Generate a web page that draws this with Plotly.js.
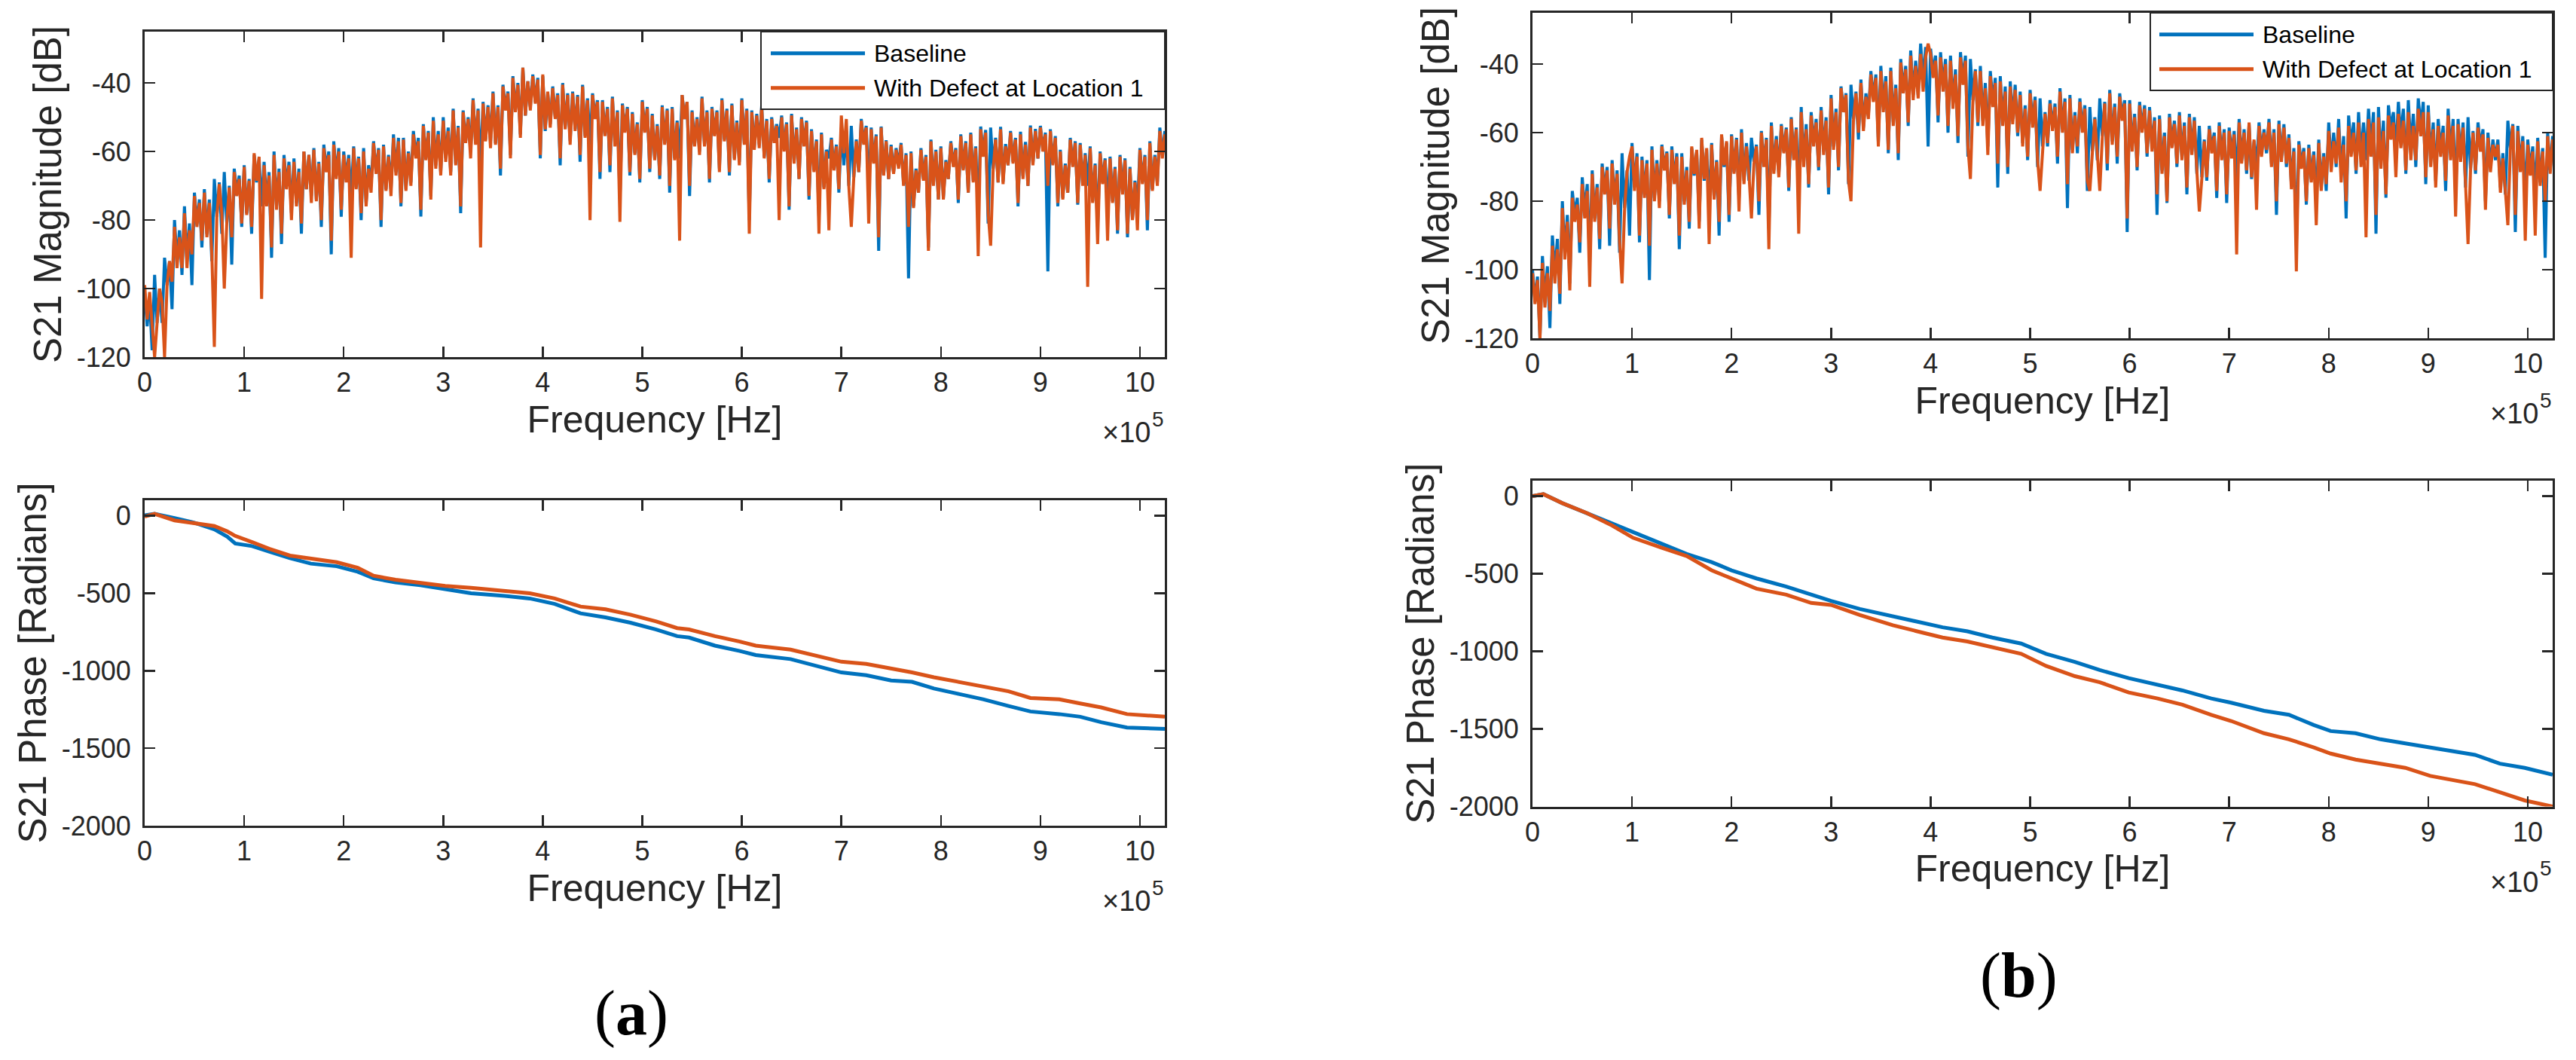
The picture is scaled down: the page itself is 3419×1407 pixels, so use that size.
<!DOCTYPE html>
<html>
<head>
<meta charset="utf-8">
<title>S21 magnitude and phase</title>
<script src="https://cdn.plot.ly/plotly-3.0.1.min.js"></script>
<style>
    html, body { margin: 0; padding: 0; background: #ffffff; }
    #chart { width: 3419px; height: 1407px; }
</style>
</head>
<body>
<div id="chart"></div>
<script>
// magnitude spectra are sampled every 2.5 kHz from 0 Hz, one row per 100 kHz
const MAG_STEP_HZ = 2500;

const freqTickVals = [0, 100000, 200000, 300000, 400000, 500000, 600000, 700000, 800000, 900000, 1000000];
const freqTickText = ['0', '1', '2', '3', '4', '5', '6', '7', '8', '9', '10'];
const magTicks = [-120, -100, -80, -60, -40];
const magTickText = ['-120', '-100', '-80', '-60', '-40'];
const phaseTicks = [-2000, -1500, -1000, -500, 0];
const phaseTickText = ['-2000', '-1500', '-1000', '-500', '0'];

const seriesNames = ['Baseline', 'With Defect at Location 1'];

// (a) magnitude [dB]
const magA_base = [
    -101, -111, -103, -118, -96, -110, -100, -110, -91, -99, -92, -106, -80, -92, -83, -96, -76, -92, -81, -99,
    -72, -81, -74, -88, -71, -84, -74, -92, -68, -79, -69, -84, -66, -81, -70, -93, -65, -72, -67, -82,
    -64, -78, -68, -84, -61, -69, -62, -76, -63, -75, -66, -91, -60, -76, -65, -87, -61, -70, -63, -78,
    -62, -75, -65, -84, -60, -71, -61, -73, -59, -74, -63, -82, -58, -65, -60, -90, -57, -67, -59, -79,
    -60, -68, -61, -74, -58.5, -70.5, -61.5, -80, -59, -75, -64, -70, -57, -66, -59, -82, -58, -71, -61, -71,
    -55, -66, -56, -76, -56, -71, -60, -69, -54, -61, -56, -79, -52, -62, -54, -73, -50, -64, -54, -66,
    -50, -62, -53, -66, -47.5, -63.5, -52.5, -78, -48, -57, -50, -60, -44.5, -57.5, -47.5, -65, -45.5, -56.5, -46.5, -57,
    -42.5, -57.5, -46.5, -67, -40.5, -47.5, -42.5, -61, -38, -48, -40, -55, -35.5, -49.5, -39.5, -47, -37.5, -45.5, -38.5, -62,
    -38, -54, -43, -52, -41, -50, -43, -64, -40, -53, -43, -57, -42.5, -53.5, -43.5, -63, -40.5, -55.5, -44.5, -58,
    -43, -50, -45, -68, -45, -55, -47, -66, -44, -58, -48, -74, -46, -54, -47, -67, -48.5, -60.5, -51.5, -69,
    -45, -54, -47, -66, -49, -62, -52, -68, -46.5, -57.5, -47.5, -72, -47, -62, -51, -62, -43.5, -50.5, -45.5, -73,
    -48, -58, -50, -60, -44, -58, -48, -69, -47, -55, -48, -65, -44.5, -56.5, -47.5, -67, -46, -62, -51, -63,
    -44.5, -57.5, -47.5, -80, -48, -59, -49, -58, -46.5, -61.5, -50.5, -69, -50, -57, -52, -56, -49.5, -59.5, -51.5, -77,
    -49, -63, -53, -68, -50, -58, -51, -74, -53.5, -65.5, -56.5, -79, -54.5, -70.5, -59.5, -62, -56, -65, -58, -72,
    -53, -64, -54, -70, -52.5, -67.5, -56.5, -66, -50.5, -57.5, -52.5, -72, -53, -63, -55, -89, -52.7, -66.7, -56.7, -68,
    -58, -66, -59, -64, -57.5, -69.5, -60.5, -97, -60, -76, -65, -72, -59, -68, -61, -88, -56.5, -69.5, -59.5, -74,
    -58.5, -73.5, -62.5, -68, -57, -64, -59, -75, -55, -65, -57, -72, -54.5, -68.5, -58.5, -79, -52.7, -60.7, -53.7, -81,
    -53, -65, -56, -69, -52.8, -68.8, -57.8, -64, -54, -63, -56, -76, -54.2, -67.2, -57.2, -70, -52.4, -63.4, -53.4, -62,
    -52.5, -59.5, -54.5, -95, -53.5, -63.5, -55.5, -76, -59.5, -73.5, -63.5, -72, -56, -64, -57, -75.5, -57.5, -69.5, -60.5, -70,
    -58.5, -74.5, -63.5, -82, -60, -69, -62, -77, -61.5, -74.5, -64.5, -84, -61, -72, -62, -85, -64.5, -79.5, -68.5, -77,
    -59, -69, -61, -83, -57, -71, -61, -69, -53, -61, -54, -66
];
const magA_defect = [
    -99, -109, -101, -112, -120, -110, -100, -104, -120, -99, -92, -98, -82, -94, -85, -94, -78, -94, -83, -90,
    -73, -82, -75, -86, -72, -85, -75, -90, -117, -79, -69.5, -78, -100, -81, -70.5, -85, -66, -73, -68, -81,
    -64.5, -78.5, -68.5, -82, -60.5, -68.5, -61.5, -103, -64, -76, -67, -88, -61, -77, -66, -84, -62, -71, -64, -80,
    -63, -76, -66, -81, -60, -71, -61, -75, -59.5, -74.5, -63.5, -80, -59, -66, -61, -86, -58, -68, -60, -77,
    -61, -69, -62, -91, -59, -71, -62, -78, -60, -76, -65, -72, -57.5, -66.5, -59.5, -80, -58.5, -71.5, -61.5, -73,
    -56, -67, -57, -75, -56.5, -71.5, -60.5, -70, -55, -62, -57, -77, -52.5, -62.5, -54.5, -74, -51, -65, -55, -67,
    -51, -63, -54, -67, -48, -64, -53, -76, -48.5, -57.5, -50.5, -62, -45, -58, -48, -88, -46, -57, -47, -59,
    -43, -58, -47, -65, -41, -48, -43, -62, -38.5, -48.5, -40.5, -56, -35.5, -49.5, -39.5, -48, -38, -46, -39, -61,
    -37.5, -53.5, -42.5, -53, -41.5, -50.5, -43.5, -62, -40.5, -53.5, -43.5, -58, -43, -54, -44, -61, -41, -56, -45, -80,
    -43.5, -50.5, -45.5, -66, -45.5, -55.5, -47.5, -64, -44.5, -58.5, -48.5, -80.5, -46.5, -54.5, -47.5, -66, -49, -61, -52, -68,
    -45.5, -54.5, -47.5, -65, -49.5, -62.5, -52.5, -67, -47, -58, -48, -70, -47.5, -62.5, -51.5, -86, -43.5, -50.5, -45.5, -70,
    -48.5, -58.5, -50.5, -61, -44.5, -58.5, -48.5, -68, -47.5, -55.5, -48.5, -66, -45, -57, -48, -66, -46.5, -62.5, -51.5, -64,
    -45, -58, -48, -84, -48.5, -59.5, -49.5, -59, -47, -62, -51, -68, -50.5, -57.5, -52.5, -80, -50, -60, -52, -76,
    -49.5, -63.5, -53.5, -68, -50.5, -58.5, -51.5, -73, -54, -66, -57, -84, -55, -71, -60, -83, -56.5, -65.5, -58.5, -71,
    -49.5, -60.5, -50.5, -70, -82, -67.5, -57, -66, -51, -58, -53, -81, -53.5, -63.5, -55.5, -85, -53, -67, -57, -68,
    -58.5, -66.5, -59.5, -65, -58, -70, -61, -82, -60.5, -76.5, -65.5, -72, -59.5, -68.5, -61.5, -89, -57, -70, -60, -74,
    -59, -74, -63, -68, -57.5, -64.5, -59.5, -74, -55.5, -65.5, -57.5, -72, -55, -69, -59, -90.5, -53.5, -61.5, -54.5, -78,
    -87.5, -65.5, -56.5, -69, -53.5, -69.5, -58.5, -64, -54.5, -63.5, -56.5, -75, -55, -68, -58, -70, -53, -64, -54, -62,
    -53, -60, -55, -70, -54, -64, -56, -75, -60, -74, -64, -72, -56.5, -64.5, -57.5, -75, -58, -70, -61, -99.5,
    -59, -75, -64, -87, -60.5, -69.5, -62.5, -86, -62, -75, -65, -83, -61.5, -72.5, -62.5, -84, -65, -80, -69, -83,
    -59.5, -69.5, -61.5, -80, -57.5, -71.5, -61.5, -70, -54, -62, -55, -64
];

// (b) magnitude [dB]
const magB_base = [
    -100, -109, -102, -120, -96, -109, -99, -117, -90, -101, -91, -110, -80, -95, -84, -104, -77, -84, -79, -95,
    -73, -83, -75, -98, -71, -85, -75, -94, -69, -77, -70, -93, -68, -80, -71, -95, -66, -82, -71, -90,
    -63, -76, -66, -92, -67, -78, -68, -103, -64, -79, -68, -80, -63.5, -70.5, -65.5, -85, -64, -74, -66, -94,
    -66, -80, -70, -88, -64.5, -72.5, -65.5, -86, -62, -74, -65, -82, -63, -79, -68, -90, -61, -70, -63, -86,
    -60.5, -71.5, -61.5, -79, -59, -74, -63, -74, -61.5, -68.5, -63.5, -84, -59.5, -69.5, -61.5, -88, -57, -71, -61, -72,
    -57.5, -65.5, -58.5, -77, -55.5, -67.5, -58.5, -80, -52.5, -68.5, -57.5, -76, -54, -63, -56, -71, -52.5, -65.5, -55.5, -78,
    -49, -64, -53, -71, -46.5, -53.5, -48.5, -75, -46, -56, -48, -62, -44.5, -58.5, -48.5, -55, -42, -50, -43, -63,
    -40.5, -52.5, -43.5, -66, -41, -57, -46, -68, -38.5, -47.5, -40.5, -58, -36, -49, -39, -49, -34, -45, -35, -64,
    -35.5, -42.5, -37.5, -57, -36.5, -46.5, -38.5, -60, -37.5, -51.5, -41.5, -63, -36.5, -44.5, -37.5, -67, -38.5, -50.5, -41.5, -58,
    -40.5, -56.5, -45.5, -64, -42, -51, -44, -76, -43.5, -56.5, -46.5, -72, -45, -56, -46, -61, -48, -63, -52, -68,
    -47.5, -57.5, -49.5, -70, -50, -64, -54, -64, -50.5, -58.5, -51.5, -69, -47, -59, -50, -82, -49, -65, -54, -66,
    -50, -59, -52, -77, -52.5, -65.5, -55.5, -68, -50, -61, -51, -71, -47.5, -62.5, -51.5, -69, -48.5, -55.5, -50.5, -89,
    -50.5, -64.5, -54.5, -71, -51, -59, -52, -67, -52.5, -64.5, -55.5, -84, -55, -71, -60, -80.5, -54.5, -63.5, -56.5, -70,
    -54, -67, -57, -78, -54.5, -65.5, -55.5, -72, -58, -73, -62, -74, -58, -65, -60, -79, -57, -67, -59, -80.5,
    -58.5, -66.5, -59.5, -74, -56, -68, -59, -72, -57.5, -73.5, -62.5, -70, -57, -66, -59, -66, -56, -69, -59, -84,
    -56.5, -67.5, -57.5, -70, -60.5, -75.5, -64.5, -93, -62.5, -69.5, -64.5, -81, -63.5, -73.5, -65.5, -80, -62, -76, -66, -77,
    -57, -69, -60, -70, -56, -72, -61, -85, -55, -64, -57, -72, -54, -67, -57, -68, -53, -64, -54, -89.5,
    -52.5, -67.5, -56.5, -79, -52, -59, -54, -66, -51, -61, -53, -72, -50.5, -64.5, -54.5, -70, -50, -58, -51, -75,
    -52, -68, -57, -74, -56, -65, -58, -77, -53, -66, -56, -78, -56, -67, -57, -76, -55.5, -70.5, -59.5, -72,
    -57, -64, -59, -80, -60, -70, -62, -68, -62, -76, -66, -78, -56.5, -64.5, -57.5, -89, -58, -70, -61, -80,
    -62, -71, -64, -78, -61.5, -74.5, -64.5, -96.5, -60, -71, -61, -66
];
const magB_defect = [
    -101, -110, -103, -120, -98, -111, -101, -112, -93, -104, -94, -107, -82, -97, -86, -106, -79, -86, -81, -92,
    -75, -85, -77, -105, -72, -86, -76, -91, -70, -78, -71, -88, -69, -81, -72, -92, -104, -82.5, -71.5, -67,
    -64, -77, -67, -90, -68, -79, -69, -93, -65, -80, -69, -82, -64, -71, -66, -84, -65, -75, -67, -90,
    -67, -81, -71, -86, -64, -72, -65, -88, -61.5, -73.5, -64.5, -92.5, -63.5, -79.5, -68.5, -86, -60.5, -69.5, -62.5, -84,
    -61, -72, -62, -83, -60, -75, -64, -72, -85, -69, -64, -80, -60, -70, -62, -94, -58, -72, -62, -73,
    -58, -66, -59, -76, -56, -68, -59, -89.5, -54, -70, -59, -75, -55, -64, -57, -70, -53.5, -66.5, -56.5, -76,
    -50, -65, -54, -70, -47, -54, -49, -74, -80, -56.5, -48.5, -60, -45.5, -59.5, -49.5, -56, -43, -51, -44, -64,
    -42, -54, -45, -65, -42, -58, -47, -66, -39.5, -48.5, -41.5, -57, -37.5, -50.5, -40.5, -50, -37, -48, -38, -34,
    -37, -44, -39, -55, -38, -48, -40, -58, -39, -53, -43, -61, -38, -46, -39, -64, -73.5, -51, -42, -57,
    -42, -58, -47, -66.5, -43.5, -52.5, -45.5, -69, -45, -58, -48, -70, -46.5, -57.5, -47.5, -60, -49, -64, -53, -67,
    -48.5, -58.5, -50.5, -68, -77, -64.5, -54.5, -63, -51.5, -59.5, -52.5, -67, -48, -60, -51, -75, -50, -66, -55, -64,
    -51, -60, -53, -74, -77, -66, -56, -66, -77, -61.5, -51.5, -69, -48.5, -63.5, -52.5, -67, -49.5, -56.5, -51.5, -85,
    -51.5, -65.5, -55.5, -70, -52, -60, -53, -66, -53.5, -65.5, -56.5, -78, -56, -72, -61, -80, -55.5, -64.5, -57.5, -69,
    -55, -68, -58, -76, -55.5, -66.5, -56.5, -71, -83, -73.5, -62.5, -73, -59, -66, -61, -77, -58, -68, -60, -78,
    -59.5, -67.5, -60.5, -95.5, -57, -69, -60, -71, -57, -73, -62, -82.5, -58, -67, -60, -65, -57, -70, -60, -80,
    -57.5, -68.5, -58.5, -69, -61.5, -76.5, -65.5, -100.5, -63.5, -70.5, -65.5, -80, -64.5, -74.5, -66.5, -87, -63, -77, -67, -75,
    -59.5, -71.5, -62.5, -69, -58.5, -74.5, -63.5, -80, -58, -67, -60, -71, -57, -70, -60, -90.5, -56, -67, -57, -84,
    -55.5, -70.5, -59.5, -78, -55, -62, -57, -73, -54.5, -64.5, -56.5, -71, -54, -68, -58, -68, -53, -61, -54, -73,
    -54, -70, -59, -76, -58, -67, -60, -74, -55, -68, -58, -84.5, -57.5, -68.5, -58.5, -75, -92.5, -71, -60, -71,
    -58.5, -65.5, -60.5, -82.5, -61.5, -71.5, -63.5, -67, -63.5, -77.5, -67.5, -77, -87, -65, -58, -84, -59.5, -71.5, -62.5, -91.5,
    -63.5, -72.5, -65.5, -90, -62.5, -75.5, -65.5, -80, -61, -72, -62, -66
];

// (a) phase [rad]
const phaseFreqA = [
    0, 10000, 30000, 50000, 70000, 83000, 91000, 108000, 125000, 146000,
    167000, 193000, 214000, 230000, 252000, 277000, 302000, 328000, 362000, 387000,
    412000, 438000, 463000, 488000, 514000, 535000, 547000, 573000, 598000, 614000,
    649000, 674000, 700000, 725000, 750000, 771000, 793000, 818000, 843000, 868000,
    890000, 919000, 940000, 961000, 987000, 1025000
];
const phaseA_base = [
    3, 12, -15, -45, -88, -135, -179, -196, -231, -274,
    -309, -326, -361, -404, -430, -448, -474, -500, -517, -534,
    -569, -630, -656, -690, -734, -777, -786, -838, -873, -899,
    -925, -968, -1011, -1029, -1063, -1072, -1115, -1150, -1185, -1228,
    -1263, -1280, -1297, -1332, -1367, -1375
];
const phaseA_defect = [
    -5, 12, -30, -48, -66, -101, -130, -170, -213, -257,
    -274, -300, -335, -387, -413, -435, -453, -465, -487, -500,
    -534, -586, -604, -638, -682, -725, -734, -777, -812, -838,
    -864, -904, -942, -956, -985, -1011, -1042, -1072, -1098, -1133,
    -1176, -1185, -1211, -1237, -1280, -1297
];

// (b) phase [rad]
const phaseFreqB = [
    0, 11000, 30000, 55000, 80000, 101000, 130000, 155000, 180000, 200000,
    225000, 255000, 280000, 300000, 329000, 362000, 387000, 412000, 437000, 462000,
    491000, 516000, 545000, 570000, 599000, 628000, 653000, 682000, 702000, 735000,
    760000, 785000, 802000, 827000, 852000, 877000, 902000, 926000, 947000, 972000,
    997000, 1025000
];
const phaseB_base = [
    0, 13, -45, -110, -171, -228, -307, -373, -425, -478,
    -530, -583, -635, -675, -727, -774, -806, -845, -871, -911,
    -950, -1016, -1068, -1121, -1173, -1213, -1252, -1304, -1331, -1383,
    -1409, -1475, -1514, -1528, -1567, -1593, -1619, -1646, -1667, -1724,
    -1751, -1795
];
const phaseB_defect = [
    0, 13, -45, -110, -189, -268, -333, -386, -478, -530,
    -596, -635, -688, -701, -766, -832, -871, -911, -937, -976,
    -1016, -1094, -1160, -1199, -1265, -1304, -1344, -1409, -1449, -1528,
    -1567, -1619, -1659, -1698, -1724, -1751, -1803, -1829, -1856, -1908,
    -1961, -2000
];

const COLORS = ['#0072BD', '#D95319'];
const INK = '#262626';
const FONT = 'Arial, "Liberation Sans", Helvetica, sans-serif';
const SERIF = '"Times New Roman", "Liberation Serif", serif';

const W = 3419, H = 1407;
const px = x => x / W;
const py = y => 1 - y / H;

// plot boxes in page pixels [left, right] / [top, bottom]
const boxes = {
    aTop: { x: [192, 1546], y: [42, 474] },
    aBot: { x: [192, 1546], y: [664, 1096] },
    bTop: { x: [2034, 3388], y: [17, 449] },
    bBot: { x: [2034, 3388], y: [638, 1070.5] }
};

function magTrace(values, i, axes) {
    return {
        type: 'scatter', mode: 'lines', name: seriesNames[i],
        x0: 0, dx: MAG_STEP_HZ, y: values,
        xaxis: axes[0], yaxis: axes[1],
        line: { color: COLORS[i], width: 4 },
        showlegend: false, hoverinfo: 'skip'
    };
}

function phaseTrace(freq, values, i, axes) {
    return {
        type: 'scatter', mode: 'lines', name: seriesNames[i],
        x: freq, y: values,
        xaxis: axes[0], yaxis: axes[1],
        line: { color: COLORS[i], width: 5 },
        showlegend: false, hoverinfo: 'skip'
    };
}

const axisStyle = {
    showline: true, linecolor: INK, linewidth: 3, mirror: 'allticks',
    ticks: 'inside', ticklen: 14, tickwidth: 2.5, tickcolor: INK,
    showgrid: false, zeroline: false, fixedrange: true, automargin: false,
    tickfont: { family: FONT, size: 36, color: INK }
};

function xAxis(box, anchor) {
    return Object.assign({}, axisStyle, {
        domain: [px(box.x[0]), px(box.x[1])], anchor: anchor,
        range: [0, 1025000], tickmode: 'array',
        tickvals: freqTickVals, ticktext: freqTickText,
        title: { text: 'Frequency [Hz]', font: { family: FONT, size: 50, color: INK }, standoff: 12 }
    });
}

function yAxis(box, anchor, range, ticks, labels, title) {
    return Object.assign({}, axisStyle, {
        domain: [py(box.y[1]), py(box.y[0])], anchor: anchor,
        range: range, tickmode: 'array', tickvals: ticks, ticktext: labels,
        ticklabelstandoff: 8,
        title: { text: title, font: { family: FONT, size: 51, color: INK }, standoff: 4 }
    });
}

// MATLAB style boxed legend, drawn on top of the plot area
function legendParts(left, right, top, bottom, lineX, rowY, textX) {
    const shapes = [{
        type: 'rect', xref: 'paper', yref: 'paper',
        x0: px(left), x1: px(right), y0: py(bottom), y1: py(top),
        fillcolor: '#ffffff', line: { color: INK, width: 2 }, layer: 'above'
    }];
    const notes = [];
    seriesNames.forEach((name, i) => {
        shapes.push({
            type: 'line', xref: 'paper', yref: 'paper',
            x0: px(lineX[0]), x1: px(lineX[1]), y0: py(rowY[i]), y1: py(rowY[i]),
            line: { color: COLORS[i], width: 5 }, layer: 'above'
        });
        notes.push({
            xref: 'paper', yref: 'paper', x: px(textX), y: py(rowY[i]),
            xanchor: 'left', yanchor: 'middle', showarrow: false,
            text: name, font: { family: FONT, size: 32, color: '#000000' }
        });
    });
    return { shapes, notes };
}

// axis multiplier, split in base and raised exponent
function exponentNotes(box) {
    const right = box.x[1], axisY = box.y[1];
    return [{
        xref: 'paper', yref: 'paper', x: px(right - 17), y: py(axisY + 100),
        xanchor: 'right', yanchor: 'middle', showarrow: false,
        text: '×10', font: { family: FONT, size: 38, color: INK }
    }, {
        xref: 'paper', yref: 'paper', x: px(right + 1), y: py(axisY + 82),
        xanchor: 'right', yanchor: 'middle', showarrow: false,
        text: '5', font: { family: FONT, size: 28, color: INK }
    }];
}

function panelLabel(letter, x, y) {
    return {
        xref: 'paper', yref: 'paper', x: px(x), y: py(y),
        xanchor: 'center', yanchor: 'middle', showarrow: false,
        text: '(<b>' + letter + '</b>)', font: { family: SERIF, size: 84, color: '#000000' }
    };
}

const data = [
    magTrace(magA_base, 0, ['x', 'y']),
    magTrace(magA_defect, 1, ['x', 'y']),
    phaseTrace(phaseFreqA, phaseA_base, 0, ['x2', 'y2']),
    phaseTrace(phaseFreqA, phaseA_defect, 1, ['x2', 'y2']),
    magTrace(magB_base, 0, ['x3', 'y3']),
    magTrace(magB_defect, 1, ['x3', 'y3']),
    phaseTrace(phaseFreqB, phaseB_base, 0, ['x4', 'y4']),
    phaseTrace(phaseFreqB, phaseB_defect, 1, ['x4', 'y4'])
];

const legA = legendParts(1010, 1546, 42, 145, [1023, 1148], [70.7, 116.7], 1158);
const legB = legendParts(2854, 3388, 17, 120, [2866, 2991], [45.7, 91.7], 3001);

const layout = {
    width: W, height: H,
    margin: { l: 0, r: 0, t: 0, b: 0 },
    paper_bgcolor: '#ffffff', plot_bgcolor: '#ffffff',
    font: { family: FONT, color: INK },
    showlegend: false,
    xaxis: xAxis(boxes.aTop, 'y'),
    yaxis: yAxis(boxes.aTop, 'x', [-120, -25], magTicks, magTickText, 'S21 Magnitude [dB]'),
    xaxis2: xAxis(boxes.aBot, 'y2'),
    yaxis2: yAxis(boxes.aBot, 'x2', [-2000, 100], phaseTicks, phaseTickText, 'S21 Phase [Radians]'),
    xaxis3: xAxis(boxes.bTop, 'y3'),
    yaxis3: yAxis(boxes.bTop, 'x3', [-120, -25], magTicks, magTickText, 'S21 Magnitude [dB]'),
    xaxis4: xAxis(boxes.bBot, 'y4'),
    yaxis4: yAxis(boxes.bBot, 'x4', [-2000, 100], phaseTicks, phaseTickText, 'S21 Phase [Radians]'),
    shapes: legA.shapes.concat(legB.shapes),
    annotations: legA.notes.concat(legB.notes,
        exponentNotes(boxes.aTop), exponentNotes(boxes.aBot),
        exponentNotes(boxes.bTop), exponentNotes(boxes.bBot),
        [panelLabel('a', 838, 1345), panelLabel('b', 2679, 1295)])
};

Plotly.newPlot('chart', data, layout, { displayModeBar: false, staticPlot: true });
</script>
</body>
</html>
